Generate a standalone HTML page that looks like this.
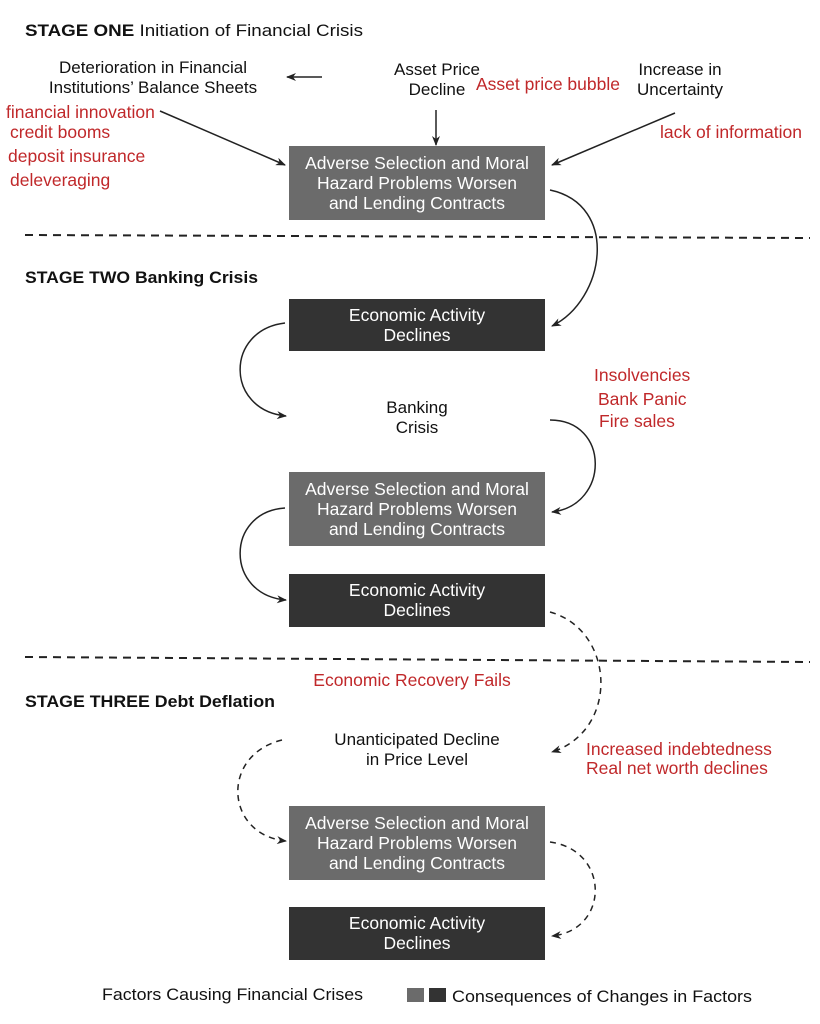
<!DOCTYPE html>
<html><head><style>
body{margin:0;background:#fff}
svg{display:block}
text{font-family:"Liberation Sans",sans-serif}
.b{font-size:17px;fill:#111}
.r{font-size:17.5px;fill:#c0282a}
.w{font-size:17.5px;fill:#fff}
.h{font-size:17px;fill:#111;font-weight:bold}
</style></head><body>
<svg width="820" height="1024" viewBox="0 0 820 1024">
<defs><marker id="a" markerWidth="10" markerHeight="8" refX="9" refY="4" orient="auto" markerUnits="userSpaceOnUse"><path d="M0,0 L10,4 L0,8 L3,4z" fill="#222"/></marker></defs>
<text x="25" y="36" class="h" textLength="338" lengthAdjust="spacingAndGlyphs">STAGE ONE <tspan font-weight="normal">Initiation of Financial Crisis</tspan></text>
<text x="153" y="73" class="b" text-anchor="middle">Deterioration in Financial</text>
<text x="153" y="93" class="b" text-anchor="middle">Institutions’ Balance Sheets</text>
<line x1="322" y1="77" x2="287" y2="77" stroke="#222" stroke-width="1.5" marker-end="url(#a)"/>
<text x="437" y="75" class="b" text-anchor="middle">Asset Price</text>
<text x="437" y="95" class="b" text-anchor="middle">Decline</text>
<text x="476" y="90" class="r">Asset price bubble</text>
<text x="680" y="75" class="b" text-anchor="middle">Increase in</text>
<text x="680" y="95" class="b" text-anchor="middle">Uncertainty</text>
<text x="6" y="118" class="r">financial innovation</text>
<text x="10" y="138" class="r">credit booms</text>
<text x="8" y="162" class="r">deposit insurance</text>
<text x="10" y="186" class="r">deleveraging</text>
<text x="660" y="138" class="r">lack of information</text>
<line x1="160" y1="111" x2="285" y2="165" stroke="#222" stroke-width="1.5" marker-end="url(#a)"/>
<line x1="436" y1="110" x2="436" y2="145" stroke="#222" stroke-width="1.5" marker-end="url(#a)"/>
<line x1="675" y1="113" x2="552" y2="165" stroke="#222" stroke-width="1.5" marker-end="url(#a)"/>
<rect x="289" y="146" width="256" height="74" fill="#6b6b6b"/>
<text x="417" y="169" class="w" text-anchor="middle">Adverse Selection and Moral</text>
<text x="417" y="189" class="w" text-anchor="middle">Hazard Problems Worsen</text>
<text x="417" y="209" class="w" text-anchor="middle">and Lending Contracts</text>
<line x1="25" y1="235" x2="810" y2="238" stroke="#222" stroke-width="2" stroke-dasharray="8,6"/>
<path d="M550,190 C620,205 605,300 552,326" fill="none" stroke="#222" stroke-width="1.5" marker-end="url(#a)"/>
<text x="25" y="283" class="h" textLength="233" lengthAdjust="spacingAndGlyphs">STAGE TWO <tspan>Banking Crisis</tspan></text>
<rect x="289" y="299" width="256" height="52" fill="#333"/>
<text x="417" y="321" class="w" text-anchor="middle">Economic Activity</text>
<text x="417" y="341" class="w" text-anchor="middle">Declines</text>
<path d="M285,323 C225,330 225,410 286,416" fill="none" stroke="#222" stroke-width="1.5" marker-end="url(#a)"/>
<text x="417" y="413" class="b" text-anchor="middle">Banking</text>
<text x="417" y="433" class="b" text-anchor="middle">Crisis</text>
<text x="594" y="381" class="r">Insolvencies</text>
<text x="598" y="405" class="r">Bank Panic</text>
<text x="599" y="427" class="r">Fire sales</text>
<path d="M550,420 C610,420 610,505 552,512" fill="none" stroke="#222" stroke-width="1.5" marker-end="url(#a)"/>
<rect x="289" y="472" width="256" height="74" fill="#6b6b6b"/>
<text x="417" y="495" class="w" text-anchor="middle">Adverse Selection and Moral</text>
<text x="417" y="515" class="w" text-anchor="middle">Hazard Problems Worsen</text>
<text x="417" y="535" class="w" text-anchor="middle">and Lending Contracts</text>
<path d="M285,508 C225,512 225,595 286,600" fill="none" stroke="#222" stroke-width="1.5" marker-end="url(#a)"/>
<rect x="289" y="574" width="256" height="53" fill="#333"/>
<text x="417" y="596" class="w" text-anchor="middle">Economic Activity</text>
<text x="417" y="616" class="w" text-anchor="middle">Declines</text>
<line x1="25" y1="657" x2="810" y2="662" stroke="#222" stroke-width="2" stroke-dasharray="8,6"/>
<path d="M550,612 C615,630 620,730 552,752" fill="none" stroke="#222" stroke-width="1.5" stroke-dasharray="6,5" marker-end="url(#a)"/>
<text x="412" y="686" class="r" text-anchor="middle">Economic Recovery Fails</text>
<text x="25" y="707" class="h" textLength="250" lengthAdjust="spacingAndGlyphs">STAGE THREE <tspan>Debt Deflation</tspan></text>
<text x="417" y="745" class="b" text-anchor="middle">Unanticipated Decline</text>
<text x="417" y="765" class="b" text-anchor="middle">in Price Level</text>
<text x="586" y="755" class="r">Increased indebtedness</text>
<text x="586" y="774" class="r">Real net worth declines</text>
<path d="M282,740 C220,755 225,835 286,841" fill="none" stroke="#222" stroke-width="1.5" stroke-dasharray="6,5" marker-end="url(#a)"/>
<rect x="289" y="806" width="256" height="74" fill="#6b6b6b"/>
<text x="417" y="829" class="w" text-anchor="middle">Adverse Selection and Moral</text>
<text x="417" y="849" class="w" text-anchor="middle">Hazard Problems Worsen</text>
<text x="417" y="869" class="w" text-anchor="middle">and Lending Contracts</text>
<path d="M550,842 C610,850 610,930 552,936" fill="none" stroke="#222" stroke-width="1.5" stroke-dasharray="6,5" marker-end="url(#a)"/>
<rect x="289" y="907" width="256" height="53" fill="#333"/>
<text x="417" y="929" class="w" text-anchor="middle">Economic Activity</text>
<text x="417" y="949" class="w" text-anchor="middle">Declines</text>
<text x="102" y="1000" class="b" textLength="261" lengthAdjust="spacingAndGlyphs">Factors Causing Financial Crises</text>
<rect x="407" y="988" width="17" height="14" fill="#6b6b6b"/>
<rect x="429" y="988" width="17" height="14" fill="#333"/>
<text x="452" y="1002" class="b" textLength="300" lengthAdjust="spacingAndGlyphs">Consequences of Changes in Factors</text>
</svg>
</body></html>
